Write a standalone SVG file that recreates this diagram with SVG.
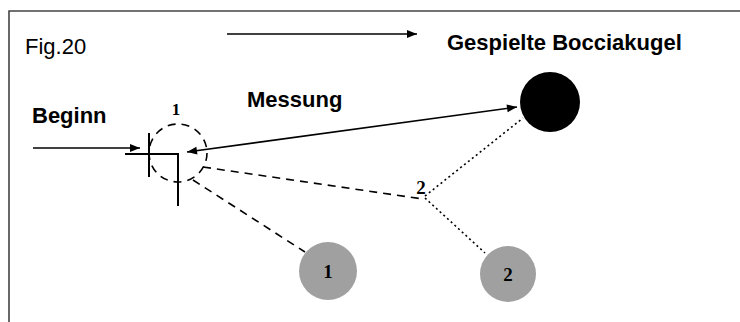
<svg xmlns="http://www.w3.org/2000/svg" width="740" height="322" viewBox="0 0 740 322">
<defs>
<style>
.sans{font-family:"Liberation Sans",Arial,sans-serif;fill:#000}
.bold{font-weight:bold}
.serif{font-family:"Liberation Serif","Times New Roman",serif;font-weight:bold;fill:#000}
.solid{stroke:#000;stroke-width:1.6;fill:none}
.dash{stroke:#000;stroke-width:1.6;fill:none;stroke-dasharray:8 6}
.dot{stroke:#000;stroke-width:1.6;fill:none;stroke-dasharray:2 3}
.grey{fill:#a0a0a0}
</style>
<marker id="ah" viewBox="0 0 10 10" refX="10" refY="5" markerWidth="14" markerHeight="10" markerUnits="userSpaceOnUse" orient="auto-start-reverse">
<path d="M0,1 L10,5 L0,9 Z" fill="#000"/>
</marker>
</defs>
<rect width="740" height="322" fill="#fff"/>
<g id="frame">
<path d="M9,322 V11 H740" stroke="#444" stroke-width="1.6" fill="none"/>
</g>
<g id="title">
<text class="sans" x="25" y="54" font-size="22">Fig.20</text>
</g>
<g id="labels">
<text class="sans bold" x="447" y="50" font-size="22">Gespielte Bocciakugel</text>
<text class="sans bold" x="247" y="107" font-size="22">Messung</text>
<text class="sans bold" x="32" y="123" font-size="22">Beginn</text>
</g>
<g id="start">
<circle cx="178" cy="153" r="29" class="dash"/>
<path d="M149,133 V177 M125,154 H178 V206" stroke="#000" stroke-width="2" fill="none"/>
<text class="serif" x="176" y="115" font-size="17" text-anchor="middle">1</text>
</g>
<g id="ball-played">
<circle cx="550" cy="102" r="30" fill="#000"/>
</g>
<g id="ball-1">
<circle cx="328" cy="271" r="29" class="grey"/>
<text class="serif" x="328" y="278" font-size="19" text-anchor="middle">1</text>
</g>
<g id="ball-2">
<circle cx="508" cy="274" r="28" class="grey"/>
<text class="serif" x="508" y="281" font-size="19" text-anchor="middle">2</text>
</g>
<g id="point-2">
<text class="serif" x="421" y="194" font-size="19" text-anchor="middle">2</text>
</g>
<g id="connectors">
<line x1="227" y1="34" x2="417" y2="34" class="solid" marker-end="url(#ah)"/>
<line x1="33" y1="148" x2="140" y2="148" class="solid" marker-end="url(#ah)"/>
<line x1="187" y1="152" x2="517" y2="107" class="solid" marker-start="url(#ah)" marker-end="url(#ah)"/>
<line x1="203" y1="167" x2="423" y2="199" class="dash"/>
<line x1="193" y1="180" x2="305" y2="252" class="dash"/>
<line x1="425" y1="196" x2="523" y2="118" class="dot"/>
<line x1="425" y1="198" x2="485" y2="253" class="dot"/>
</g>
</svg>
